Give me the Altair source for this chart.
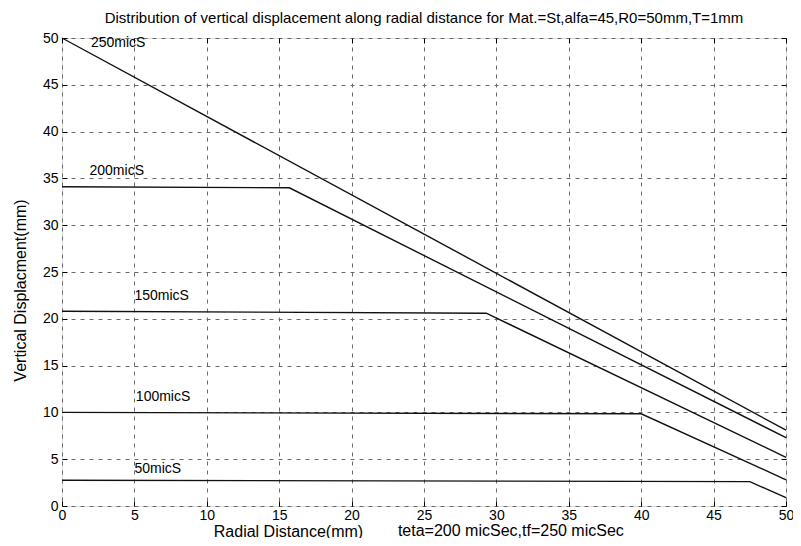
import altair as alt
import pandas as pd

# ---- data ----
x_ticks = [0, 5, 10, 15, 20, 25, 30, 35, 40, 45, 50]
y_ticks = [0, 5, 10, 15, 20, 25, 30, 35, 40, 45, 50]

series_names = ["250micS", "200micS", "150micS", "100micS", "50micS"]
r_250 = [0.0, 50.0]
w_250 = [50.0, 8.1]
r_200 = [0.0, 15.7, 50.0]
w_200 = [34.1, 34.0, 7.3]
r_150 = [0.0, 29.3, 50.0]
w_150 = [20.8, 20.6, 5.2]
r_100 = [0.0, 40.0, 50.0]
w_100 = [10.0, 9.85, 2.8]
r_50 = [0.0, 47.5, 50.0]
w_50 = [2.75, 2.6, 0.9]

label_x = [2.0, 1.9, 5.0, 5.1, 5.0]
label_y = [49.5, 35.8, 22.4, 11.6, 3.9]

title_text = "Distribution of vertical displacement along radial distance for Mat.=St,alfa=45,R0=50mm,T=1mm"
x_title = "Radial Distance(mm)"
y_title = "Vertical Displacment(mm)"
note_text = ["teta=200 micSec,tf=250 micSec"]
note_x = [31.0]
note_y = [-2.65]

# ---- tables ----
rows = []
for name, rs, ws in zip(series_names,
                        [r_250, r_200, r_150, r_100, r_50],
                        [w_250, w_200, w_150, w_100, w_50]):
    for i, (r, w) in enumerate(zip(rs, ws)):
        rows.append({"series": name, "r": r, "w": w, "idx": i})
lines_df = pd.DataFrame(rows)
labels_df = pd.DataFrame({"label": series_names, "x": label_x, "y": label_y})
note_df = pd.DataFrame({"text": note_text, "x": note_x, "y": note_y})

FONT = "Liberation Sans"
xscale = alt.Scale(domain=[0, 50], nice=False, zero=False)
yscale = alt.Scale(domain=[0, 50], nice=False, zero=False)

W, H = 724, 468

lines = alt.Chart(lines_df).mark_line(color="#111111", strokeWidth=1.4).encode(
    x=alt.X("r:Q", scale=xscale, axis=alt.Axis(
        orient="bottom", values=x_ticks, grid=True, gridDash=[4, 5], gridColor="#6a6a6a",
        gridWidth=1, ticks=False, domain=False, labelPadding=2, labelFontSize=14,
        labelFont=FONT, labelColor="black", labelFlush=False,
        title=x_title, titleFont=FONT, titleFontSize=16, titleFontWeight="normal",
        titleColor="black", titleX=226, titleY=25, titleAlign="center",
        titleBaseline="middle")),
    y=alt.Y("w:Q", scale=yscale, axis=alt.Axis(
        orient="left", values=y_ticks, grid=True, gridDash=[4, 5], gridColor="#6a6a6a",
        gridWidth=1, ticks=False, domain=False, labelPadding=4, labelFontSize=14,
        labelFont=FONT, labelColor="black", labelFlush=False,
        title=y_title, titleFont=FONT, titleFontSize=16, titleFontWeight="normal",
        titleColor="black", titleX=-42, titleY=252, titleAlign="center",
        titleBaseline="middle", titleAngle=270)),
    detail="series:N",
    order="idx:O",
)

labels = alt.Chart(labels_df).mark_text(
    align="left", baseline="middle", fontSize=14, font=FONT, color="black"
).encode(
    x=alt.X("x:Q", scale=xscale, axis=alt.Axis(
        orient="top", values=x_ticks, labels=False, grid=False, domain=False,
        ticks=True, tickSize=5, offset=-5, tickColor="black", title=None)),
    y=alt.Y("y:Q", scale=yscale, axis=alt.Axis(
        orient="right", values=y_ticks, labels=False, grid=False, domain=False,
        ticks=True, tickSize=5, offset=-5, tickColor="black", title=None)),
    text="label:N",
)

note = alt.Chart(note_df).mark_text(
    align="center", baseline="middle", fontSize=16, font=FONT, color="black"
).encode(
    x=alt.X("x:Q", scale=xscale, axis=alt.Axis(
        orient="bottom", values=x_ticks, labels=False, grid=False, domain=False,
        ticks=True, tickSize=5, offset=-5, tickColor="black", title=None)),
    y=alt.Y("y:Q", scale=yscale, axis=alt.Axis(
        orient="left", values=y_ticks, labels=False, grid=False, domain=False,
        ticks=True, tickSize=5, offset=-5, tickColor="black", title=None)),
    text="text:N",
)

chart = alt.layer(lines, labels, note).resolve_axis(
    x="independent", y="independent"
).properties(
    width=W, height=H,
    title=alt.TitleParams(title_text, fontSize=15, font=FONT, fontWeight="normal",
                          color="black", anchor="middle", offset=5),
    autosize=alt.AutoSizeParams(type="none"),
    padding={"left": 54, "top": 30, "right": 7, "bottom": 32},
).configure_view(
    stroke="black", strokeWidth=1.3
).configure(background="white")

chart.save("out.html", embed_options={"renderer": "svg", "actions": False})
